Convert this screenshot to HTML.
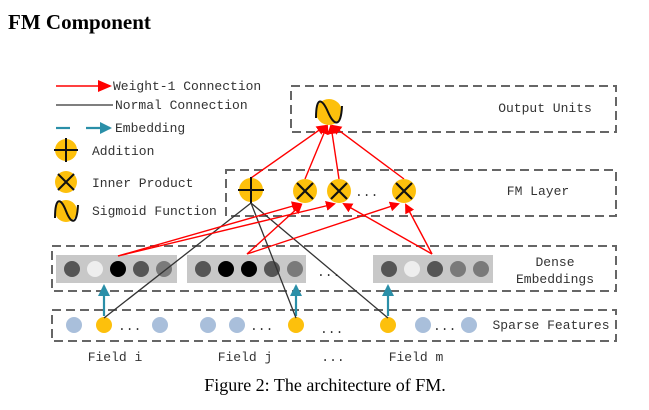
<!DOCTYPE html>
<html><head><meta charset="utf-8"><style>
body{margin:0;background:#fff;width:649px;height:405px;overflow:hidden}
</style></head><body>
<svg width="649" height="405" viewBox="0 0 649 405" xmlns="http://www.w3.org/2000/svg">
<defs>
<marker id="ar" markerWidth="10" markerHeight="10" refX="8" refY="5" orient="auto" markerUnits="userSpaceOnUse"><path d="M0,0 L10,5 L0,10 z" fill="#f00"/></marker>
<marker id="ar2" markerWidth="14" markerHeight="12" refX="12" refY="6" orient="auto" markerUnits="userSpaceOnUse"><path d="M0,0 L14,6 L0,12 z" fill="#f00"/></marker>
<marker id="at" markerWidth="12" markerHeight="12" refX="10" refY="6" orient="auto" markerUnits="userSpaceOnUse"><path d="M0,0 L12,6 L0,12 z" fill="#2a8fa8"/></marker>
</defs>
<text x="8" y="29" font-family="Liberation Serif" font-weight="bold" font-size="21">FM Component</text>
<g font-family="Liberation Mono" font-size="13" fill="#333">
<line x1="56" y1="86" x2="110" y2="86" stroke="#f00" stroke-width="1.6" marker-end="url(#ar2)"/>
<text x="113" y="90">Weight-1 Connection</text>
<line x1="56" y1="105" x2="113" y2="105" stroke="#555" stroke-width="1.6"/>
<text x="115" y="109">Normal Connection</text>
<line x1="56" y1="128" x2="70" y2="128" stroke="#2a8fa8" stroke-width="2.2"/>
<line x1="86" y1="128" x2="110" y2="128" stroke="#2a8fa8" stroke-width="2.2" marker-end="url(#at)"/>
<text x="115" y="132">Embedding</text>
<text x="92" y="155">Addition</text>
<text x="92" y="187">Inner Product</text>
<text x="92" y="215">Sigmoid Function</text>
<text x="545" y="112" text-anchor="middle">Output Units</text>
<text x="538" y="195" text-anchor="middle">FM Layer</text>
<text x="555" y="266" text-anchor="middle">Dense</text>
<text x="555" y="283" text-anchor="middle">Embeddings</text>
<text x="551" y="329" text-anchor="middle">Sparse Features</text>
<text x="115" y="361" text-anchor="middle">Field i</text>
<text x="245" y="361" text-anchor="middle">Field j</text>
<text x="333" y="361" text-anchor="middle">...</text>
<text x="416" y="361" text-anchor="middle">Field m</text>
</g>
<circle cx="66" cy="150" r="11" fill="#fdc00c"/><path d="M54,150H78M66,138V162" stroke="#111" stroke-width="2"/>
<circle cx="66" cy="182" r="11" fill="#fdc00c"/><path d="M58,174L74,190M74,174L58,190" stroke="#111" stroke-width="2"/>
<circle cx="66" cy="211" r="11" fill="#fdc00c"/><path d="M55,218C55,196 61,198 66,211 C71,224 77,226 78,205" stroke="#111" stroke-width="2" fill="none"/>
<g fill="none" stroke="#666" stroke-width="2" stroke-dasharray="9,5">
<rect x="291" y="86" width="325" height="46"/>
<rect x="226" y="170" width="390" height="46"/>
<rect x="52" y="246" width="564" height="45"/>
<rect x="52" y="310" width="564" height="31"/>
</g>
<rect x="56" y="255" width="121" height="28" fill="#c8c8c8"/>
<rect x="187" y="255" width="119" height="28" fill="#c8c8c8"/>
<rect x="373" y="255" width="120" height="28" fill="#c8c8c8"/>
<g>
<circle cx="72" cy="269" r="8" fill="#555"/><circle cx="95" cy="269" r="8" fill="#eee"/><circle cx="118" cy="269" r="8" fill="#000"/><circle cx="141" cy="269" r="8" fill="#555"/><circle cx="164" cy="269" r="8" fill="#7a7a7a"/>
<circle cx="203" cy="269" r="8" fill="#555"/><circle cx="226" cy="269" r="8" fill="#000"/><circle cx="249" cy="269" r="8" fill="#000"/><circle cx="272" cy="269" r="8" fill="#555"/><circle cx="295" cy="269" r="8" fill="#7a7a7a"/>
<circle cx="389" cy="269" r="8" fill="#555"/><circle cx="412" cy="269" r="8" fill="#eee"/><circle cx="435" cy="269" r="8" fill="#555"/><circle cx="458" cy="269" r="8" fill="#7a7a7a"/><circle cx="481" cy="269" r="8" fill="#7a7a7a"/>
</g>
<g font-family="Liberation Mono" font-size="13" fill="#333">
<text x="317" y="276">...</text>
<text x="118" y="330">...</text>
<text x="250" y="330">...</text>
<text x="320" y="333">...</text>
<text x="433" y="330">...</text>
<text x="355" y="196">...</text>
</g>
<g fill="#a9bfdb">
<circle cx="74" cy="325" r="8"/><circle cx="160" cy="325" r="8"/><circle cx="208" cy="325" r="8"/><circle cx="237" cy="325" r="8"/><circle cx="423" cy="325" r="8"/><circle cx="469" cy="325" r="8"/>
</g>
<g fill="#fdc00c"><circle cx="104" cy="325" r="8"/><circle cx="296" cy="325" r="8"/><circle cx="388" cy="325" r="8"/></g>
<g stroke="#2a8fa8" stroke-width="2.2" marker-end="url(#at)">
<line x1="104" y1="316" x2="104" y2="286"/><line x1="296" y1="316" x2="296" y2="286"/><line x1="388" y1="316" x2="388" y2="286"/>
</g>
<g stroke="#333" stroke-width="1.3">
<line x1="251" y1="203" x2="104" y2="318"/><line x1="251" y1="203" x2="296" y2="318"/><line x1="251" y1="203" x2="388" y2="318"/>
</g>
<g stroke="#f00" stroke-width="1.4" marker-end="url(#ar)">
<line x1="118" y1="256" x2="300" y2="204"/><line x1="118" y1="256" x2="334" y2="204"/>
<line x1="247" y1="254" x2="301" y2="205"/><line x1="247" y1="254" x2="398" y2="204"/>
<line x1="432" y1="254" x2="344" y2="204"/><line x1="432" y1="254" x2="406" y2="205"/>
<line x1="251" y1="178" x2="325" y2="126"/><line x1="305" y1="179" x2="327" y2="126"/><line x1="339" y1="179" x2="331" y2="126"/><line x1="404" y1="179" x2="333" y2="126"/>
</g>
<circle cx="251" cy="190" r="12" fill="#fdc00c"/><path d="M238,190H264M251,177V203" stroke="#111" stroke-width="2"/>
<g stroke="#111" stroke-width="2.2">
<circle cx="305" cy="191" r="12" fill="#fdc00c" stroke="none"/><path d="M297,183L313,199M313,183L297,199"/>
<circle cx="339" cy="191" r="12" fill="#fdc00c" stroke="none"/><path d="M331,183L347,199M347,183L331,199"/>
<circle cx="404" cy="191" r="12" fill="#fdc00c" stroke="none"/><path d="M396,183L412,199M412,183L396,199"/>
</g>
<circle cx="329" cy="112" r="13" fill="#fdc00c"/><path d="M316,118C316,96 322,98 328,112 C334,126 341,128 342,106" stroke="#111" stroke-width="2" fill="none"/>
<text x="325" y="391" text-anchor="middle" font-family="Liberation Serif" font-size="18">Figure 2: The architecture of FM.</text>
</svg>
</body></html>
